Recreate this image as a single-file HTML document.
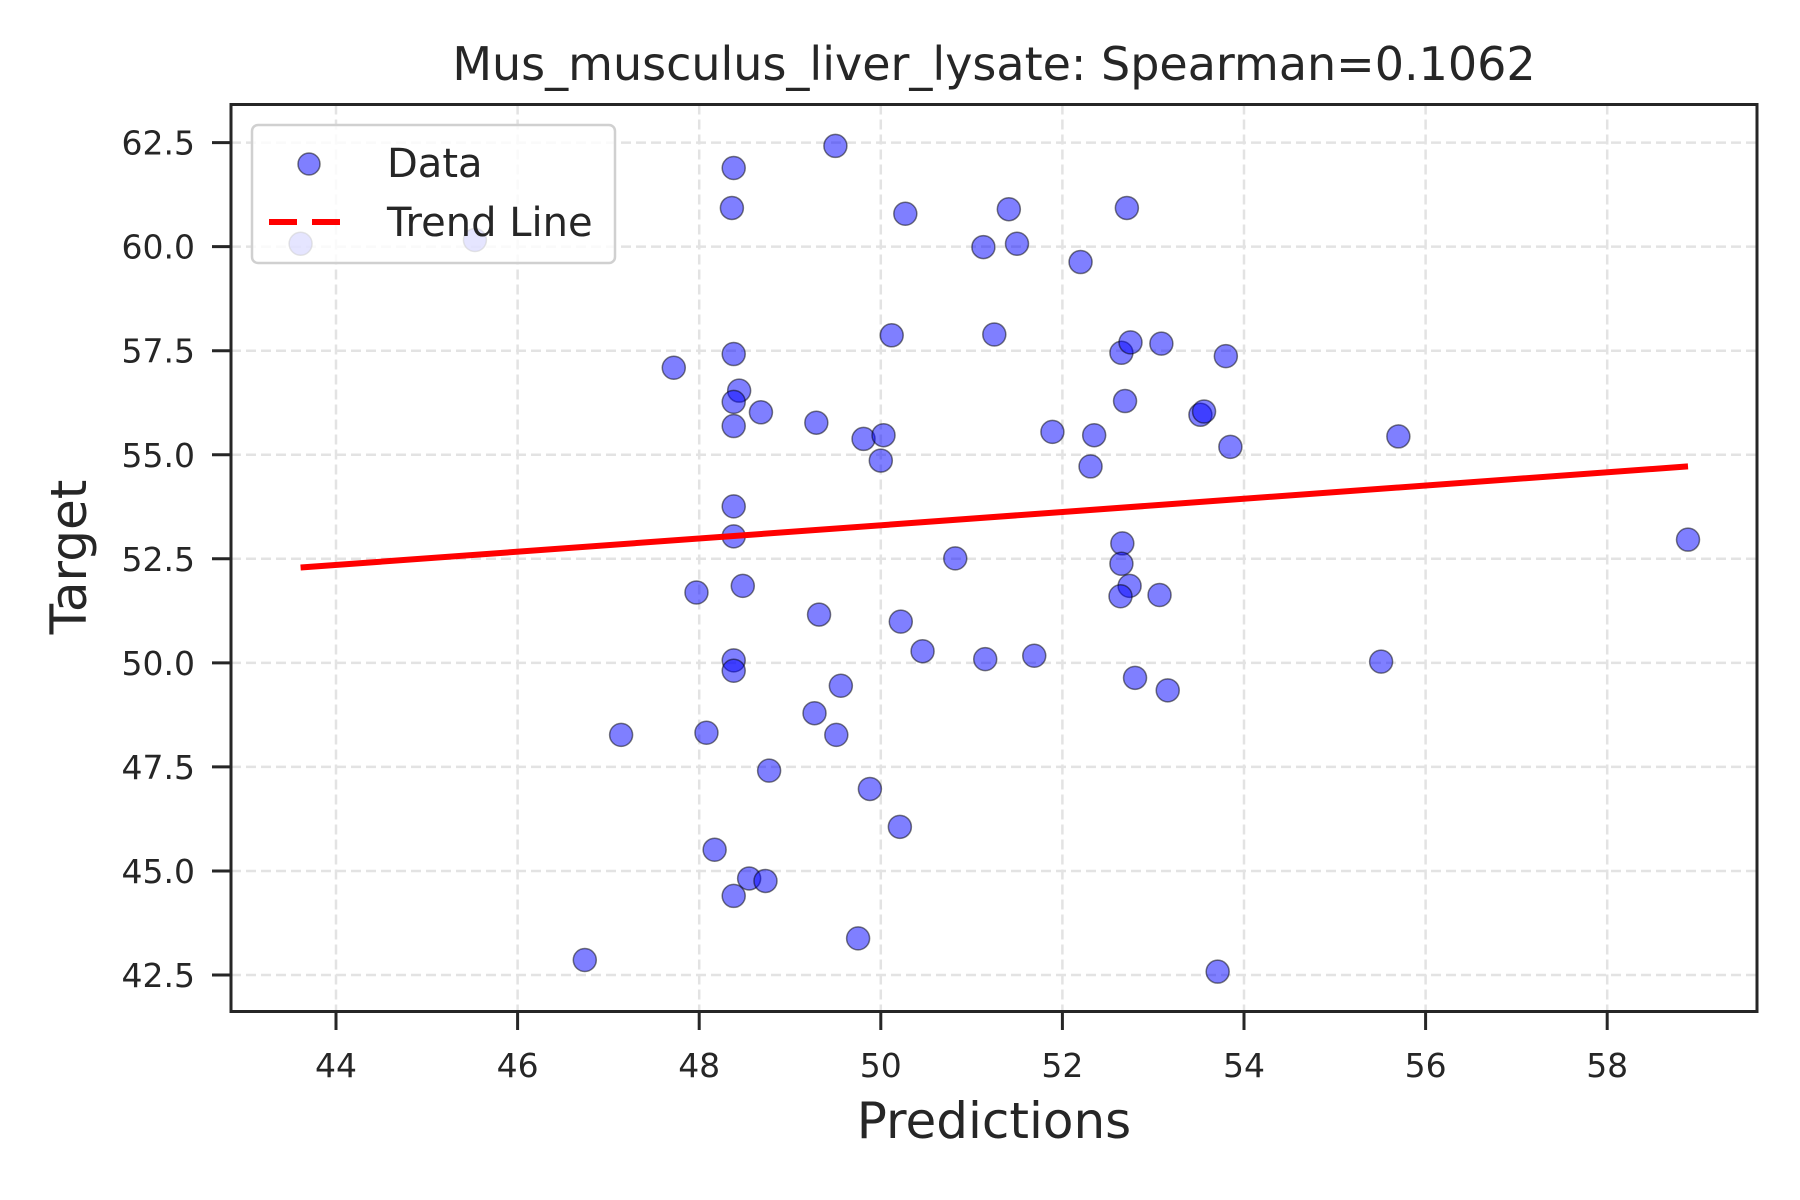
<!DOCTYPE html>
<html><head><meta charset="utf-8"><style>
body{margin:0;background:#fff}
svg{display:block;font-family:"DejaVu Sans","Liberation Sans",sans-serif}
</style></head><body>
<svg id="chart" width="1800" height="1200" viewBox="0 0 1800 1200">
<rect x="0" y="0" width="1800" height="1200" fill="#fff"/>
<g id="grid"></g>
<g id="points"></g>
<g id="trend"></g>
<rect x="231" y="104.5" width="1526" height="907" fill="none" stroke="#262626" stroke-width="3"/>
<g id="xticks"></g>
<g id="yticks"></g>
<text x="994" y="80" text-anchor="middle" font-size="46" fill="#262626">Mus_musculus_liver_lysate: Spearman=0.1062</text>
<text x="994" y="1138" text-anchor="middle" font-size="50" fill="#262626">Predictions</text>
<text transform="translate(86,557) rotate(-90)" text-anchor="middle" font-size="50" fill="#262626">Target</text>
<g>
<rect x="252" y="125" width="363" height="138" rx="6" fill="#fff" fill-opacity="0.8" stroke="#d0d0d0" stroke-width="2.5"/>
<circle cx="309" cy="164" r="11" fill="rgba(0,0,255,0.5)" stroke="rgba(0,0,0,0.5)" stroke-width="1.5"/>
<text x="387" y="177" font-size="40" fill="#262626">Data</text>
<line x1="269" y1="222" x2="344" y2="222" stroke="#ff0000" stroke-width="6" stroke-dasharray="28,15"/>
<text x="387" y="236" font-size="40" fill="#262626">Trend Line</text>
</g>
</svg>
<script>
const predictions=[43.61,45.53,48.38,49.50,48.36,50.27,51.41,52.71,51.13,51.50,52.20,50.12,51.25,47.72,48.38,52.65,52.75,53.09,53.80,48.44,48.38,48.68,52.69,53.52,53.56,49.29,48.38,49.81,50.03,51.89,52.35,53.85,55.70,50.00,52.31,48.38,48.38,52.66,58.89,50.82,52.65,47.97,48.48,52.74,52.64,53.07,49.32,50.22,50.46,51.15,51.69,48.38,48.38,55.51,49.56,52.80,53.16,47.14,48.08,49.27,49.51,48.77,49.88,50.21,48.17,48.55,48.73,48.38,46.74,49.75,53.71];
const targets=[60.07,60.16,61.89,62.42,60.93,60.79,60.90,60.93,59.99,60.07,59.63,57.87,57.89,57.09,57.42,57.45,57.70,57.67,57.37,56.54,56.27,56.02,56.29,55.96,56.04,55.77,55.69,55.38,55.47,55.55,55.47,55.19,55.44,54.86,54.72,53.76,53.04,52.87,52.96,52.51,52.38,51.69,51.85,51.85,51.60,51.63,51.16,50.99,50.28,50.09,50.17,50.06,49.81,50.03,49.45,49.64,49.34,48.27,48.32,48.79,48.27,47.41,46.97,46.06,45.51,44.82,44.76,44.40,42.86,43.38,42.58];
const trendX=[43.61,58.89];
const trendY=[52.29,54.72];
const xTicks=[44,46,48,50,52,54,56,58];
const yTicks=[42.5,45.0,47.5,50.0,52.5,55.0,57.5,60.0,62.5];
const NS="http://www.w3.org/2000/svg";
function X(v){return 336+(v-44)*90.8;}
function Y(v){return 975-(v-42.5)*41.62;}
function mk(tag,attrs,parent){const e=document.createElementNS(NS,tag);for(const k in attrs)e.setAttribute(k,attrs[k]);parent.appendChild(e);return e;}
const grid=document.getElementById('grid'),pts=document.getElementById('points'),tr=document.getElementById('trend'),xg=document.getElementById('xticks'),yg=document.getElementById('yticks');
xTicks.forEach(t=>{
  const g=mk('line',{x1:X(t),x2:X(t),y1:104.5,y2:1011,stroke:'#e3e3e3','stroke-width':2.5,'stroke-dasharray':'10,5'},grid);
  
  
  const tk=mk('line',{x1:X(t),x2:X(t),y1:1011,y2:1030,stroke:'#262626','stroke-width':3},xg);
  
  
  const tx=mk('text',{x:X(t),y:1077,'text-anchor':'middle','font-size':33,fill:'#262626'},xg);
  tx.textContent=String(t);
  
  
});
yTicks.forEach(t=>{
  const g=mk('line',{x1:231,x2:1757,y1:Y(t),y2:Y(t),stroke:'#e3e3e3','stroke-width':2.5,'stroke-dasharray':'10,5'},grid);
  
  
  const tk=mk('line',{x1:212,x2:231,y1:Y(t),y2:Y(t),stroke:'#262626','stroke-width':3},yg);
  
  
  const tx=mk('text',{x:195,y:Y(t)+12,'text-anchor':'end','font-size':33,fill:'#262626'},yg);
  tx.textContent=t.toFixed(1);
  
  
});
predictions.forEach((p,i)=>{
  const c=mk('circle',{cx:X(p),cy:Y(targets[i]),r:11.5,fill:'rgba(0,0,255,0.5)',stroke:'rgba(0,0,0,0.5)','stroke-width':1.5},pts);
  
  
});
const ln=mk('line',{x1:X(trendX[0]),y1:Y(trendY[0]),x2:X(trendX[1]),y2:Y(trendY[1]),stroke:'#ff0000','stroke-width':6},tr);


</script>
</body></html>
